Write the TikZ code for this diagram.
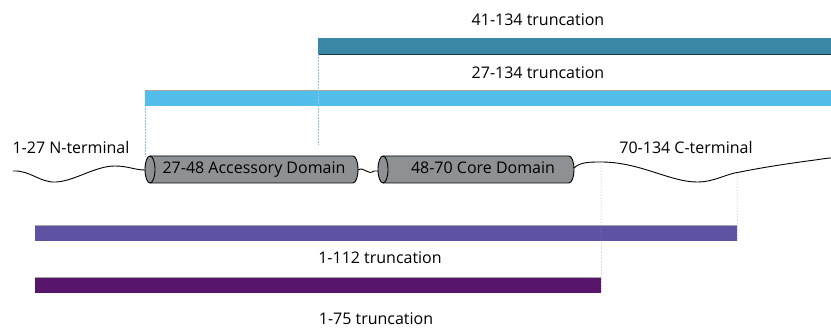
\documentclass[tikz,border=0pt]{standalone}
\usepackage{fontspec}
\setmainfont{Open Sans}
\begin{document}
\begin{tikzpicture}[x=1pt,y=-1pt,
  lbl/.style={font=\fontsize{16}{18}\selectfont, inner sep=0pt, anchor=center},
  domlbl/.style={font=\fontsize{16}{18}\selectfont, inner sep=0pt, anchor=center},
  bar/.style={anchor=north west, inner sep=0pt, minimum height=15.5pt},
  guide/.style={densely dotted, line width=0.5pt},
  wave/.style={line width=0.9pt, black},
  cyl/.style={fill=cylgray, draw=black, line width=0.9pt}]
\definecolor{teal41}{HTML}{3B87A6}
\definecolor{sky27}{HTML}{53BEEA}
\definecolor{lav112}{HTML}{5E52A3}
\definecolor{plum75}{HTML}{57156B}
\definecolor{cylgray}{HTML}{8E9193}
\definecolor{guideblue}{HTML}{8FC6E0}
\definecolor{guidepurple}{HTML}{A58FD8}
\useasboundingbox (0,0) rectangle (831,328);

% bars
\node[bar, fill=teal41, minimum width=513pt] (b41) at (318,38) {};
\draw[line width=0.7pt, black!60!teal41] (b41.south west) -- (b41.south east);
\node[bar, fill=sky27, minimum width=686pt] (b27) at (145,90.5) {};
\draw[line width=0.7pt, gray!70] (b27.north west) -- (b27.north east);
\node[bar, fill=lav112, minimum width=702pt] (b112) at (35,225) {};
\draw[line width=0.7pt, gray!70] (b112.north west) -- (b112.north east);
\node[bar, fill=plum75, minimum width=566pt] (b75) at (35,277) {};
\draw[line width=0.7pt, gray!70] (b75.north west) -- (b75.north east);

% labels
\node[lbl] (t41) at (538,20) {41-134 truncation};
\node[lbl] (t27) at (538,73) {27-134 truncation};
\node[lbl] (t112) at (380,258) {1-112 truncation};
\node[lbl] (t75) at (376,318.5) {1-75 truncation};
\node[domlbl] (tN) at (71,148) {1-27 N-terminal};
\node[domlbl] (tC) at (686,148) {70-134 C-terminal};

% guide coordinates
\coordinate (g1) at (318,145);
\coordinate (g2) at (145,156);
\coordinate (g3) at (601,164);
\coordinate (g4) at (737,174);
\draw[guide, guideblue] (b41.south west) -- (g1);
\draw[guide, guideblue] (b27.south west) -- (g2);
\draw[guide, guidepurple] (g3) -- (b75.south east);
\draw[guide, guidepurple] (g4) -- (b112.south east);

% N-terminal wave
\draw[wave] (13,171) .. controls (30,170) and (40,183) .. (56,182)
  .. controls (75,181) and (95,166) .. (115,166)
  .. controls (128,166) and (135,170) .. (145,170);

% cylinder 1
\draw[cyl] (150,156) -- (353,156) arc[start angle=-90, end angle=90, x radius=5, y radius=13.5]
  -- (150,183) arc[start angle=90, end angle=270, x radius=5, y radius=13.5] -- cycle;
\draw[line width=0.9pt] (150,156) arc[start angle=-90, end angle=90, x radius=5, y radius=13.5];
\node[domlbl] (cy1) at (254,170) {27-48 Accessory Domain};

% linker
\draw[wave] (358,170) .. controls (364,166) and (368,176) .. (374,171) -- (384,171);

% cylinder 2
\draw[cyl] (383,156) -- (569,156) arc[start angle=-90, end angle=90, x radius=5, y radius=13.5]
  -- (383,183) arc[start angle=90, end angle=270, x radius=5, y radius=13.5] -- cycle;
\draw[line width=0.9pt] (383,156) arc[start angle=-90, end angle=90, x radius=5, y radius=13.5];
\node[domlbl] (cy2) at (483,168) {48-70 Core Domain};

% C-terminal wave
\draw[wave] (574,168) .. controls (580,162) and (590,162) .. (601,162)
  .. controls (640,162) and (670,182) .. (697,182)
  .. controls (715,182) and (725,174) .. (740,172)
  .. controls (770,166) and (800,162) .. (815,160)
  .. controls (822,159) and (828,158) .. (831,158);
\end{tikzpicture}
\end{document}
